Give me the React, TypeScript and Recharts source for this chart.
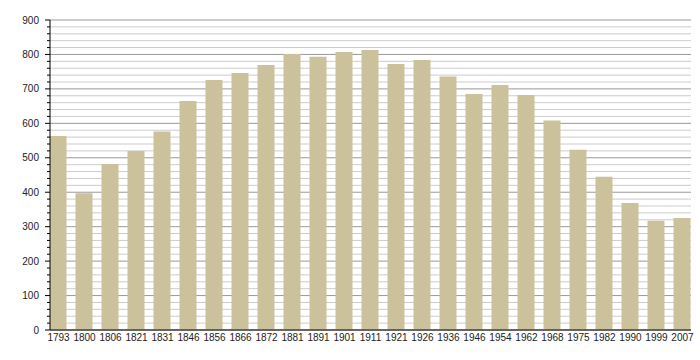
import { BarChart, Bar, XAxis, YAxis, CartesianGrid } from "recharts";

const years = [
  "1793", "1800", "1806", "1821", "1831", "1846", "1856", "1866", "1872",
  "1881", "1891", "1901", "1911", "1921", "1926", "1936", "1946", "1954",
  "1962", "1968", "1975", "1982", "1990", "1999", "2007",
];

const population = [
  563, 397, 482, 520, 576, 665, 726, 746, 769,
  801, 793, 807, 813, 772, 784, 736, 685, 711,
  682, 608, 523, 445, 369, 317, 325,
];

const yTicks = Array.from({ length: 46 }, (_, i) => i * 20);

const data = years.map((year, i) => ({ i, year, value: population[i] }));
const xTicks = data.map((d) => d.i);

const FONT = "'Liberation Sans', Arial, sans-serif";

function YTick(props: any) {
  const { x, y, payload } = props;
  const major = payload.value % 100 === 0;
  return (
    <g>
      <line
        x1={major ? x + 6 : x + 8}
        x2={x + 11}
        y1={y}
        y2={y}
        stroke="#000"
        strokeWidth={1}
      />
      {major && (
        <text
          x={x}
          y={y}
          textAnchor="end"
          dominantBaseline="central"
          fontSize={10}
          fontFamily={FONT}
          fill="#222"
        >
          {payload.value}
        </text>
      )}
    </g>
  );
}

function GridLine(props: any) {
  const { x1, x2, y1, y2, index } = props;
  const major = index % 5 === 0;
  return (
    <line
      key={`g-${index}`}
      x1={x1}
      x2={x2}
      y1={y1}
      y2={y2}
      stroke={major ? "#999" : "#ccc"}
      strokeWidth={1}
    />
  );
}

export default function App() {
  return (
    <div style={{ position: "absolute", left: 0, top: 0, background: "#fff" }}>
      <BarChart
        width={700}
        height={360}
        data={data}
        margin={{ top: 20, right: 9, left: 0, bottom: 0 }}
      >
        <CartesianGrid vertical={false} horizontal={GridLine} />
        <XAxis
          dataKey="i"
          type="number"
          domain={[-0.327, 24.327]}
          allowDataOverflow
          ticks={xTicks}
          interval={0}
          tickFormatter={(v: number) => years[v]}
          height={30}
          tickLine={false}
          tickSize={0}
          tickMargin={4}
          axisLine={{ stroke: "#000" }}
          tick={{ fontSize: 10, fill: "#222", fontFamily: FONT }}
        />
        <YAxis
          domain={[0, 900]}
          ticks={yTicks}
          interval={0}
          width={50}
          tickLine={false}
          tickSize={5}
          tickMargin={6}
          axisLine={{ stroke: "#000" }}
          tick={<YTick />}
        />
        <Bar
          dataKey="value"
          fill="#cbc29c"
          barSize={17}
          isAnimationActive={false}
        />
      </BarChart>
    </div>
  );
}
